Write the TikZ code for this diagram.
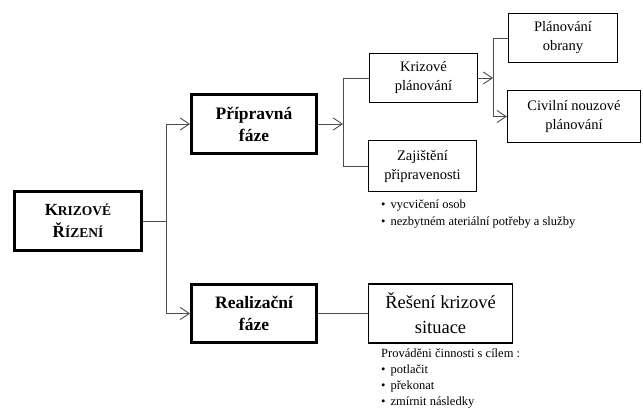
\documentclass[tikz,border=0pt]{standalone}
\usepackage{fontspec}
\setmainfont{Liberation Serif}
\usetikzlibrary{arrows.meta}
\begin{document}
\begin{tikzpicture}[x=1pt,y=-1pt,
  thickbox/.style={draw, line width=3pt, inner sep=0pt, align=center, font=\bfseries\fontsize{17.5}{22}\selectfont},
  thinbox/.style={draw, line width=1.4pt, inner sep=0pt, align=center, font=\fontsize{14.5}{19}\selectfont},
  conn/.style={line width=0.9pt, draw=black!70},
  arr/.style={conn, -{Straight Barb[length=9pt,width=12pt,line width=0.9pt]}},
  note/.style={inner sep=0pt, align=left, anchor=north west, font=\fontsize{12.5}{17}\selectfont}]
\useasboundingbox (0,0) rectangle (643,417);
% main boxes
\node[thickbox, minimum width=127pt, minimum height=59pt] (kr) at (78,221)
  {{\fontsize{17}{22}\selectfont K}{\fontsize{13.5}{22}\selectfont RIZOVÉ}\\{\fontsize{17}{22}\selectfont Ř}{\fontsize{13.5}{22}\selectfont ÍZENÍ}};
\node[thickbox, minimum width=125pt, minimum height=59pt] (pf) at (254,124) {Přípravná\\fáze};
\node[thickbox, minimum width=125pt, minimum height=58pt] (rf) at (254,313.5) {Realizační\\fáze};
% thin boxes
\node[thinbox, minimum width=108pt, minimum height=49pt] (kp) at (423.5,78) {Krizové\\plánování};
\node[thinbox, minimum width=108pt, minimum height=51pt] (zp) at (422.5,166) {Zajištění\\připravenosti};
\node[thinbox, minimum width=109pt, minimum height=49pt] (po) at (563,38) {Plánování\\obrany};
\node[thinbox, minimum width=133pt, minimum height=52pt] (cnp) at (574,116.5) {Civilní nouzové\\plánování};
\node[thinbox, minimum width=144pt, minimum height=59pt, font=\fontsize{18.5}{25}\selectfont] (rs) at (440.5,313.5) {Řešení krizové\\situace};
% notes
\node[note] (n1) at (381,200) {\textbullet\hspace{5pt}vycvičení osob\\\textbullet\hspace{5pt}nezbytném ateriální potřeby a služby};
\node[note] (n2) at (381,349) {Prováděni činnosti s cílem :\\[-1pt]\textbullet\hspace{5pt}potlačit\\[-1pt]\textbullet\hspace{5pt}překonat\\[-1pt]\textbullet\hspace{5pt}zmírnit následky};
% connectors
\draw[arr] (kr.east) -- ++(23,0) |- (pf.west);
\draw[arr] (kr.east) -- ++(23,0) |- (rf.west);
\coordinate (j1) at (343,124);
\draw[arr] (pf.east) -- (j1);
\draw[conn] (j1) |- (kp.west);
\draw[conn] (j1) |- (zp.west);
\coordinate (j2) at (493,78);
\draw[arr] (kp.east) -- (j2);
\draw[conn] (j2) |- (po.west);
\draw[arr] (j2) |- (cnp.west);
\draw[conn] (rf.east) -- (rs.west);
\end{tikzpicture}
\end{document}
